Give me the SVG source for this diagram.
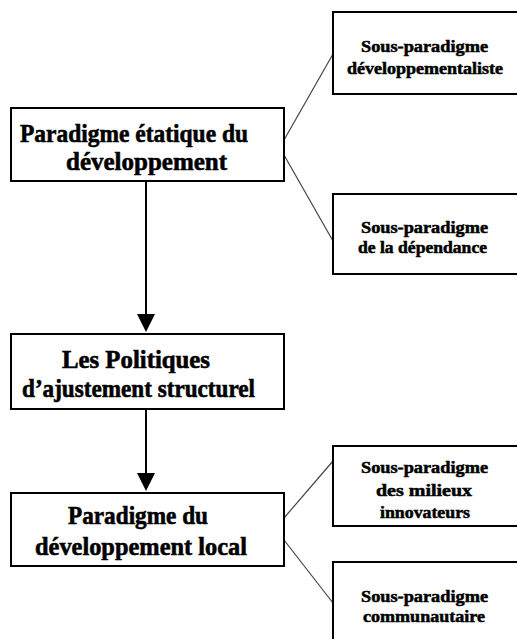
<svg xmlns="http://www.w3.org/2000/svg" width="517" height="639" viewBox="0 0 517 639">
<style>
.box{fill:#fff;stroke:#000;stroke-width:2}
.big{font-family:"Liberation Serif","Times New Roman",serif;font-weight:bold;font-size:26px;fill:#000;stroke:#000;stroke-width:0.6}
.small{font-family:"Liberation Serif","Times New Roman",serif;font-weight:bold;font-size:16px;fill:#000;stroke:#000;stroke-width:0.5}
.link{stroke:#444;stroke-width:1.2;fill:none}
.arrow{stroke:#000;stroke-width:2;fill:none}
</style>
<rect width="517" height="639" fill="#fff"/>
<g id="connectors">
<line class="link" x1="284" y1="140" x2="333" y2="54"/>
<line class="link" x1="284" y1="155" x2="333" y2="241"/>
<line class="link" x1="284" y1="518" x2="333" y2="461"/>
<line class="link" x1="284" y1="540" x2="333" y2="603"/>
<path d="M146,181 V314" class="arrow"/>
<path d="M146,314 L137,314 L146,332 L155,314 Z" fill="#000"/>
<path d="M146,409 V473" class="arrow"/>
<path d="M146,473 L137,473 L146,491 L155,473 Z" fill="#000"/>
</g>
<g id="n1">
<rect class="box" x="11" y="108" width="273" height="73"/>
<text class="big" x="20" y="142" textLength="228" lengthAdjust="spacingAndGlyphs">Paradigme étatique du</text>
<text class="big" x="66" y="170" textLength="161" lengthAdjust="spacingAndGlyphs">développement</text>
</g>
<g id="n2">
<rect class="box" x="11" y="334" width="273" height="75"/>
<text class="big" x="62" y="368" textLength="148" lengthAdjust="spacingAndGlyphs">Les Politiques</text>
<text class="big" x="22" y="397" textLength="233" lengthAdjust="spacingAndGlyphs">d’ajustement structurel</text>
</g>
<g id="n3">
<rect class="box" x="11" y="493" width="273" height="73"/>
<text class="big" x="68" y="524" textLength="140" lengthAdjust="spacingAndGlyphs">Paradigme du</text>
<text class="big" x="35" y="555" textLength="212" lengthAdjust="spacingAndGlyphs">développement local</text>
</g>
<g id="r1">
<rect class="box" x="333" y="12" width="190" height="82"/>
<text class="small" x="361" y="52" textLength="127" lengthAdjust="spacingAndGlyphs">Sous-paradigme</text>
<text class="small" x="347" y="74" textLength="156" lengthAdjust="spacingAndGlyphs">développementaliste</text>
</g>
<g id="r2">
<rect class="box" x="333" y="194" width="190" height="80"/>
<text class="small" x="361" y="233" textLength="127" lengthAdjust="spacingAndGlyphs">Sous-paradigme</text>
<text class="small" x="358" y="253" textLength="129" lengthAdjust="spacingAndGlyphs">de la dépendance</text>
</g>
<g id="r3">
<rect class="box" x="333" y="446" width="190" height="80"/>
<text class="small" x="361" y="473" textLength="127" lengthAdjust="spacingAndGlyphs">Sous-paradigme</text>
<text class="small" x="376" y="496" textLength="96" lengthAdjust="spacingAndGlyphs">des milieux</text>
<text class="small" x="380" y="518" textLength="90" lengthAdjust="spacingAndGlyphs">innovateurs</text>
</g>
<g id="r4">
<rect class="box" x="333" y="562" width="190" height="90"/>
<text class="small" x="361" y="602" textLength="127" lengthAdjust="spacingAndGlyphs">Sous-paradigme</text>
<text class="small" x="363" y="622" textLength="122" lengthAdjust="spacingAndGlyphs">communautaire</text>
</g>
</svg>
